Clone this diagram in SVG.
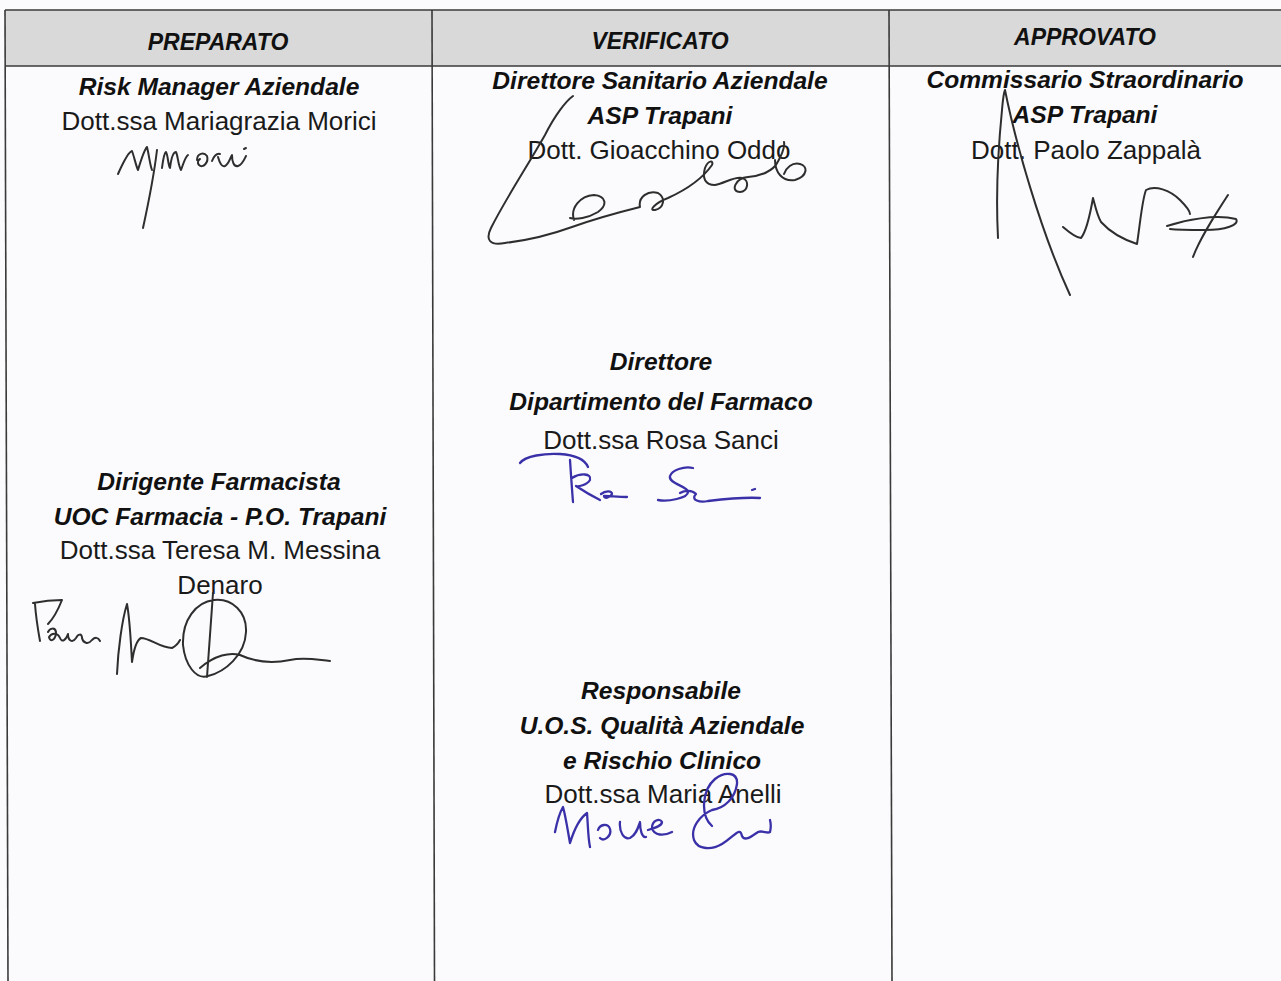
<svg xmlns="http://www.w3.org/2000/svg" width="1281" height="981" viewBox="0 0 1281 981">
<style>
.bi{font-family:"Liberation Sans",Arial,sans-serif;font-weight:bold;font-style:italic;font-size:24.6px;fill:#111;text-anchor:middle}
.rg{font-family:"Liberation Sans",Arial,sans-serif;font-size:26px;fill:#1a1a1a;text-anchor:middle}
.hd{font-family:"Liberation Sans",Arial,sans-serif;font-weight:bold;font-style:italic;font-size:23px;fill:#111;text-anchor:middle}
.grid{stroke:#3a3a3a;stroke-width:1.6;fill:none}
.sigk{fill:none;stroke:#2e2e2e;stroke-width:2;stroke-linecap:round;stroke-linejoin:round}
.sigb{fill:none;stroke:#3a30a8;stroke-width:2.3;stroke-linecap:round;stroke-linejoin:round}
</style>
<rect x="0" y="0" width="1281" height="981" fill="#fbfbfd"/>
<g id="header">
<rect x="5" y="10" width="1276" height="56" fill="#d9d9d9"/>
<text class="hd" x="218" y="50">PREPARATO</text>
<text class="hd" x="660" y="49">VERIFICATO</text>
<text class="hd" x="1085" y="45">APPROVATO</text>
</g>
<g id="grid">
<line class="grid" x1="5" y1="10" x2="1281" y2="10"/>
<line class="grid" x1="5" y1="66" x2="1281" y2="66"/>
<line class="grid" x1="5" y1="10" x2="8" y2="981"/>
<line class="grid" x1="432" y1="10" x2="434.5" y2="981"/>
<line class="grid" x1="889" y1="10" x2="892" y2="981"/>
</g>
<g id="preparato-risk">
<text class="bi" x="219" y="95">Risk Manager Aziendale</text>
<text class="rg" x="219" y="130">Dott.ssa Mariagrazia Morici</text>
<path class="sigk" d="M118,174 C122,165 128,152 132,151 C134,156 136,166 138,170 C141,160 144,150 147,147 C149,155 150,165 152,170 M157,150 C154,175 148,205 143,228 M162,168 C163,160 164,153 166,152 C168,155 168,165 170,168 C171,160 173,152 176,152 C178,156 178,165 181,170 C183,165 185,157 188,155 M197,160 C197,153 204,152 207,156 C209,162 203,169 199,165 C197,163 198,160 200,159 M212,161 C214,156 216,153 220,154 M218,157 C220,164 222,167 225,166 C229,164 230,158 232,155 C232,162 234,167 238,166 C242,165 244,160 246,156 M244,149 L246,148"/>
</g>
<g id="preparato-farmacista">
<text class="bi" x="219" y="490">Dirigente Farmacista</text>
<text class="bi" x="220" y="525">UOC Farmacia - P.O. Trapani</text>
<text class="rg" x="220" y="559">Dott.ssa Teresa M. Messina</text>
<text class="rg" x="220" y="594">Denaro</text>
<path class="sigk" d="M33,603 C43,601 54,600 62,600 C58,610 52,620 48,624 M35,604 C36,618 38,630 40,641 M48,632 C50,628 55,627 56,632 C56,640 50,643 49,637 C52,632 58,633 60,638 C62,643 66,640 68,634 C68,640 72,644 76,638 C78,634 82,633 82,638 C83,643 88,645 92,640 C95,637 98,637 100,641 M117,674 C118,650 122,620 127,604 C130,620 131,645 132,662 C134,648 137,640 141,638 C150,638 160,648 172,648 C176,646 178,644 180,640 M213,593 C211,620 209,650 207,677 M214,600 C196,602 182,620 183,645 C185,665 196,680 208,676 C225,672 245,655 246,632 C247,612 232,598 214,600 M200,668 C215,655 230,652 240,655 C255,662 270,664 290,660 C305,657 318,660 330,661"/>
</g>
<g id="verificato-sanitario">
<text class="bi" x="660" y="89">Direttore Sanitario Aziendale</text>
<text class="bi" x="660" y="124">ASP Trapani</text>
<text class="rg" x="659" y="159">Dott. Gioacchino Oddo</text>
<path class="sigk" d="M573,96 C566,101 555,115 545,135 C525,170 505,200 491,228 C485,240 490,246 505,243 C530,240 550,235 572,227 C600,217 620,212 640,207 M574,220 C570,208 580,196 594,195 C606,196 608,205 598,212 C588,218 576,220 570,218 M640,207 C638,197 648,190 658,193 C666,198 664,208 655,210 C648,211 655,203 668,198 C690,188 705,175 712,165 C714,160 708,160 705,168 C702,178 705,185 715,185 C725,183 735,176 742,178 C750,180 748,192 740,192 C730,192 735,178 748,177 C760,176 770,172 776,165 C782,155 785,147 784,142 M775,160 C775,172 782,182 795,180 C808,176 808,166 800,164 C792,162 786,168 784,174"/>
</g>
<g id="verificato-farmaco">
<text class="bi" x="661" y="370">Direttore</text>
<text class="bi" x="661" y="410">Dipartimento del Farmaco</text>
<text class="rg" x="661" y="449">Dott.ssa Rosa Sanci</text>
<path class="sigb" d="M520,463 C525,456 545,453 560,454 C575,455 585,460 588,467 M570,460 C571,475 572,490 573,502 M572,478 C580,473 592,473 590,480 C587,485 578,487 576,486 C582,490 592,496 600,500 M601,494 C605,491 612,490 612,494 C610,498 604,499 604,496 C610,496 618,497 627,497 M693,468 C684,466 672,470 670,476 C668,484 688,486 688,492 C688,498 668,502 658,500 M680,493 C685,490 692,490 696,494 C690,500 700,503 708,501 C725,499 745,497 760,498 M752,490 L755,489"/>
</g>
<g id="verificato-qualita">
<text class="bi" x="661" y="699">Responsabile</text>
<text class="bi" x="662" y="734">U.O.S. Qualità Aziendale</text>
<text class="bi" x="662" y="769">e Rischio Clinico</text>
<text class="rg" x="663" y="803">Dott.ssa Maria Anelli</text>
<path class="sigb" d="M555,832 C557,822 560,812 563,807 C566,818 568,832 570,843 C574,830 580,818 587,813 C588,825 588,838 590,847 M598,830 C600,824 608,823 610,829 C612,836 604,842 600,838 M620,822 C619,832 624,840 630,838 C636,835 638,828 640,822 C640,830 642,838 646,837 M648,830 C655,828 662,826 662,822 C660,818 652,820 652,828 C654,836 664,836 672,832 M712,826 C700,815 702,790 715,779 C725,771 738,772 737,784 C735,798 725,808 712,810 C700,815 690,828 694,840 C698,850 712,850 722,844 C735,836 740,826 742,836 C745,842 752,836 758,832 C763,830 767,834 770,832 C771,828 771,824 770,820"/>
</g>
<g id="approvato">
<text class="bi" x="1085" y="88">Commissario Straordinario</text>
<text class="bi" x="1085" y="123">ASP Trapani</text>
<text class="rg" x="1086" y="159">Dott. Paolo Zappalà</text>
<path class="sigk" d="M998,238 C996,200 998,150 1002,110 C1003,98 1004,92 1005,90 C1015,140 1040,230 1070,295 M1063,227 C1070,233 1076,238 1081,238 C1086,232 1090,215 1093,198 C1095,205 1097,215 1101,222 C1110,232 1125,240 1137,244 C1140,225 1142,200 1146,190 C1155,185 1170,190 1180,200 C1188,208 1190,212 1190,214 M1228,195 C1215,215 1200,238 1193,257 M1167,226 C1185,220 1215,214 1236,219 C1240,225 1225,230 1205,230 C1190,230 1178,230 1170,229"/>
</g>
</svg>
